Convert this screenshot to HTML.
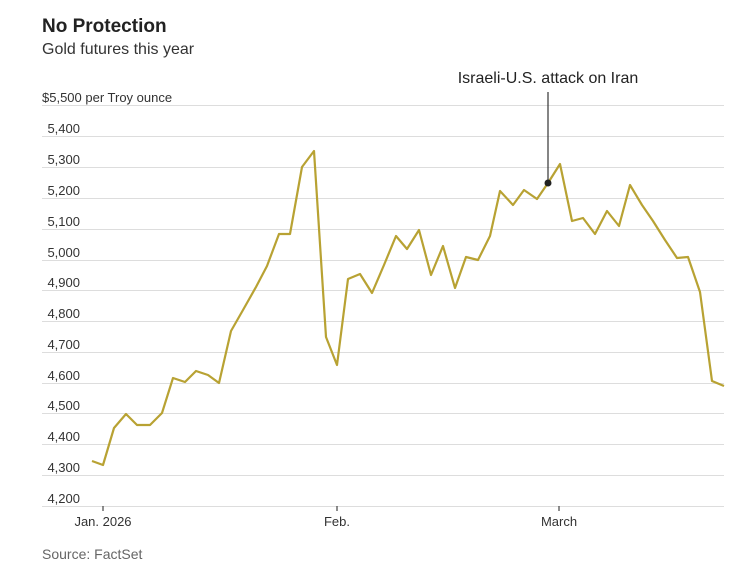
<!DOCTYPE html>
<html><head><meta charset="utf-8"><style>
body{margin:0;background:#fff;width:738px;height:583px;overflow:hidden}
svg text{font-family:"Liberation Sans Narrow","Liberation Sans",sans-serif}
</style></head><body>
<svg width="738" height="583" viewBox="0 0 738 583" xmlns="http://www.w3.org/2000/svg">
<text x="42" y="32" font-size="19" font-weight="bold" fill="#222">No Protection</text>
<text x="42" y="54" font-size="16" fill="#333">Gold futures this year</text>
<g stroke="#ddd" stroke-width="1">
<line x1="42" x2="724" y1="105.5" y2="105.5"/><line x1="42" x2="724" y1="136.5" y2="136.5"/>
<line x1="42" x2="724" y1="167.5" y2="167.5"/><line x1="42" x2="724" y1="198.5" y2="198.5"/>
<line x1="42" x2="724" y1="229.5" y2="229.5"/><line x1="42" x2="724" y1="260.5" y2="260.5"/>
<line x1="42" x2="724" y1="290.5" y2="290.5"/><line x1="42" x2="724" y1="321.5" y2="321.5"/>
<line x1="42" x2="724" y1="352.5" y2="352.5"/><line x1="42" x2="724" y1="383.5" y2="383.5"/>
<line x1="42" x2="724" y1="413.5" y2="413.5"/><line x1="42" x2="724" y1="444.5" y2="444.5"/>
<line x1="42" x2="724" y1="475.5" y2="475.5"/><line x1="42" x2="724" y1="506.5" y2="506.5"/>
</g>
<g font-size="13" fill="#333" text-anchor="end">
<text x="80" y="133">5,400</text><text x="80" y="164">5,300</text><text x="80" y="195">5,200</text>
<text x="80" y="226">5,100</text><text x="80" y="257">5,000</text><text x="80" y="287">4,900</text>
<text x="80" y="318">4,800</text><text x="80" y="349">4,700</text><text x="80" y="380">4,600</text>
<text x="80" y="410">4,500</text><text x="80" y="441">4,400</text><text x="80" y="472">4,300</text>
<text x="80" y="503">4,200</text>
</g>
<text x="42" y="102" font-size="13" fill="#333">$5,500 per Troy ounce</text>
<g stroke="#444" stroke-width="1.2"><line x1="103" x2="103" y1="506" y2="511"/><line x1="337" x2="337" y1="506" y2="511"/><line x1="559" x2="559" y1="506" y2="511"/></g>
<g font-size="13" fill="#333" text-anchor="middle">
<text x="103" y="526">Jan. 2026</text><text x="337" y="526">Feb.</text><text x="559" y="526">March</text>
</g>
<text x="42" y="559" font-size="14" fill="#666">Source: FactSet</text>
<polyline fill="none" stroke="#b8a233" stroke-width="2.2" stroke-linejoin="round" points="92,461 103,465 114,428 126,414 137,425 150,425 162,413 173,378 185,382 196,371 208,375 219,383 231,331 243,310 256,287 267,266 279,234 290,234 302,167 314,151 326,337 337,365 348,279 360,274 372,293 384,265 396,236 407,249 419,230 431,275 443,246 455,288 466,257 478,260 490,236 500,191 513,205 524,190 537,199 548,183 560,164 572,221 583,218 595,234 607,211 619,226 630,185 642,205 653,221 665,240 677,258 688,257 700,292 712,381 724,386"/>
<line x1="548" x2="548" y1="92" y2="183" stroke="#333" stroke-width="1.2"/>
<circle cx="548" cy="183" r="3.5" fill="#222"/>
<text x="548" y="83" font-size="16" fill="#222" text-anchor="middle">Israeli-U.S. attack on Iran</text>
</svg>
</body></html>
